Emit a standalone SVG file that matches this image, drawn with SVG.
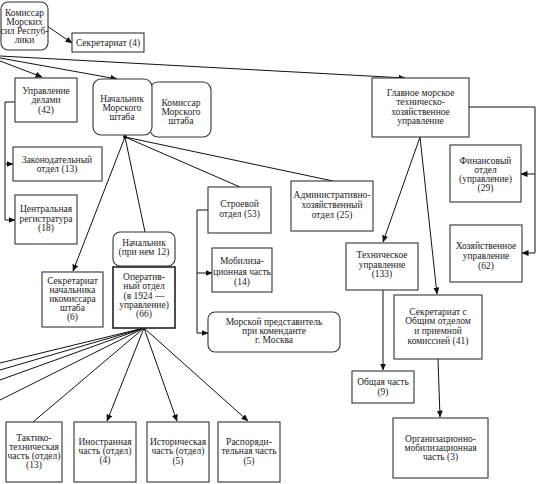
<svg xmlns="http://www.w3.org/2000/svg" width="538" height="484" viewBox="0 0 538 484">
<defs>
<marker id="ah" markerWidth="7" markerHeight="6" refX="6.5" refY="3" orient="auto" markerUnits="userSpaceOnUse">
<path d="M0,0 L7,3 L0,6 Z" fill="#111"/>
</marker>
<style>
.b{fill:#fff;stroke:#333;stroke-width:1.1}
.bt{fill:#fff;stroke:#222;stroke-width:1.6}
.t{font-family:"Liberation Serif","Times New Roman",serif;font-size:9.5px;fill:#222;text-anchor:middle}
.c{fill:none;stroke:#111;stroke-width:1}
.a{fill:none;stroke:#111;stroke-width:1;marker-end:url(#ah)}
</style>
</defs>
<rect width="538" height="484" fill="#fff"/>

<g id="connectors">
<path class="a" d="M47,26 L72,43"/>
<path class="a" d="M0,56 L405,78"/>
<path class="a" d="M0,58 L117,79"/>
<path class="a" d="M0,61 L42,77"/>
<path class="c" d="M15,102 L5,102 L5,220"/>
<path class="a" d="M5,164 L13,164"/>
<path class="a" d="M5,220 L15,220"/>
<path class="a" d="M125,137 L73,271"/>
<path class="c" d="M125,137 L145,232"/>
<path class="c" d="M125,137 L240,187"/>
<path class="c" d="M125,137 L333,181"/>
<circle cx="125" cy="137" r="2" fill="#111"/>
<path class="c" d="M208,210 L197,210 L197,333"/>
<path class="a" d="M197,273 L212,273"/>
<path class="a" d="M197,333 L208,333"/>
<path class="c" d="M144,328 L0,363"/>
<path class="c" d="M144,328 L0,370"/>
<path class="c" d="M144,328 L0,380"/>
<path class="c" d="M144,328 L0,400"/>
<path class="c" d="M144,328 L33,422"/>
<path class="a" d="M144,328 L107,421"/>
<path class="a" d="M144,328 L177,421"/>
<path class="a" d="M144,328 L248,421"/>
<path class="c" d="M469,107 L535,107 L535,253"/>
<path class="a" d="M535,174 L521,174"/>
<path class="a" d="M535,253 L522,253"/>
<path class="a" d="M420,137 L383,242"/>
<path class="a" d="M420,137 L437,294"/>
<path class="a" d="M383,290 L383,370"/>
<path class="a" d="M438,359 L440,417"/>
</g>

<g id="n-komissar"><rect class="b" x="1" y="2" width="47" height="48" rx="7"/>
<text class="t" x="24.5" y="16">Комиссар</text><text class="t" x="24.5" y="25">Морских</text><text class="t" x="24.5" y="34">сил Респуб-</text><text class="t" x="24.5" y="43">лики</text></g>

<g id="n-sekr4"><rect class="b" x="72" y="33" width="72" height="19"/>
<text class="t" x="108" y="46">Секретариат (4)</text></g>

<g id="n-uprdel"><rect class="b" x="15" y="78" width="62" height="44"/>
<text class="t" x="46" y="94">Управление</text><text class="t" x="46" y="103">делами</text><text class="t" x="46" y="113">(42)</text></g>

<g id="n-komshtab"><rect class="b" x="150" y="82" width="61" height="55" rx="8"/>
<text class="t" x="181" y="106">Комиссар</text><text class="t" x="181" y="115">Морского</text><text class="t" x="181" y="124">штаба</text></g>

<g id="n-nachshtab"><rect class="b" x="93" y="79" width="59" height="56" rx="8"/>
<text class="t" x="122" y="102">Начальник</text><text class="t" x="122" y="111">Морского</text><text class="t" x="122" y="120">штаба</text></g>

<g id="n-zakon"><rect class="b" x="13" y="147" width="89" height="34"/>
<text class="t" x="57" y="163">Законодательный</text><text class="t" x="57" y="172">отдел (13)</text></g>

<g id="n-central"><rect class="b" x="15" y="195" width="62" height="49"/>
<text class="t" x="46" y="212">Центральная</text><text class="t" x="46" y="222">регистратура</text><text class="t" x="46" y="231">(18)</text></g>

<g id="n-sekrnach"><rect class="b" x="42" y="272" width="61" height="55"/>
<text class="t" x="72.5" y="284">Секретариат</text><text class="t" x="72.5" y="293">начальника</text><text class="t" x="72.5" y="302">икомиссара</text><text class="t" x="72.5" y="311">штаба</text><text class="t" x="72.5" y="320">(6)</text></g>

<g id="n-nachpri"><rect class="b" x="113" y="232" width="62" height="34" rx="7"/>
<text class="t" x="144" y="246">Начальник</text><text class="t" x="144" y="255">(при нем 12)</text></g>

<g id="n-oper"><rect class="bt" x="113" y="267" width="62" height="61"/>
<text class="t" x="144" y="280">Оператив-</text><text class="t" x="144" y="289">ный отдел</text><text class="t" x="144" y="299">(в 1924 —</text><text class="t" x="144" y="308">управление)</text><text class="t" x="144" y="317">(66)</text></g>

<g id="n-stroev"><rect class="b" x="208" y="187" width="63" height="46"/>
<text class="t" x="239.5" y="207">Строевой</text><text class="t" x="239.5" y="217">отдел (53)</text></g>

<g id="n-admin"><rect class="b" x="291" y="181" width="82" height="50"/>
<text class="t" x="332" y="198">Административно-</text><text class="t" x="332" y="208">хозяйственный</text><text class="t" x="332" y="218">отдел (25)</text></g>

<g id="n-mobil"><rect class="b" x="212" y="248" width="60" height="44"/>
<text class="t" x="242" y="264">Мобилиза-</text><text class="t" x="242" y="275">ционная часть</text><text class="t" x="242" y="285">(14)</text></g>

<g id="n-morpred"><rect class="b" x="208" y="312" width="132" height="40" rx="7"/>
<text class="t" x="274" y="325">Морской представитель</text><text class="t" x="274" y="334">при коменданте</text><text class="t" x="274" y="343">г. Москва</text></g>

<g id="n-taktiko"><rect class="b" x="6" y="422" width="56" height="60"/>
<text class="t" x="34" y="441">Тактико-</text><text class="t" x="34" y="450">техническая</text><text class="t" x="34" y="459">часть (отдел)</text><text class="t" x="34" y="468">(13)</text></g>

<g id="n-inostr"><rect class="b" x="74" y="422" width="62" height="60"/>
<text class="t" x="105" y="445">Иностранная</text><text class="t" x="105" y="454">часть (отдел)</text><text class="t" x="105" y="463">(4)</text></g>

<g id="n-istor"><rect class="b" x="147" y="422" width="62" height="60"/>
<text class="t" x="178" y="445">Историческая</text><text class="t" x="178" y="454">часть (отдел)</text><text class="t" x="178" y="464">(5)</text></g>

<g id="n-raspor"><rect class="b" x="218" y="422" width="62" height="60"/>
<text class="t" x="249" y="445">Распоряди-</text><text class="t" x="249" y="454">тельная часть</text><text class="t" x="249" y="464">(5)</text></g>

<g id="n-glavnoe"><rect class="b" x="372" y="78" width="97" height="59"/>
<text class="t" x="420.5" y="96">Главное морское</text><text class="t" x="420.5" y="105">техническо-</text><text class="t" x="420.5" y="115">хозяйственное</text><text class="t" x="420.5" y="124">управление</text></g>

<g id="n-finans"><rect class="b" x="450" y="145" width="71" height="57"/>
<text class="t" x="485.5" y="164">Финансовый</text><text class="t" x="485.5" y="173">отдел</text><text class="t" x="485.5" y="182">(управление)</text><text class="t" x="485.5" y="191">(29)</text></g>

<g id="n-hoz"><rect class="b" x="450" y="225" width="72" height="57"/>
<text class="t" x="486" y="249">Хозяйственное</text><text class="t" x="486" y="259">управление</text><text class="t" x="486" y="269">(62)</text></g>

<g id="n-tech"><rect class="b" x="346" y="243" width="72" height="47"/>
<text class="t" x="382" y="258">Техническое</text><text class="t" x="382" y="268">управление</text><text class="t" x="382" y="277">(133)</text></g>

<g id="n-sekrobsh"><rect class="b" x="394" y="295" width="88" height="64"/>
<text class="t" x="438" y="315">Секретариат с</text><text class="t" x="438" y="324">Общим отделом</text><text class="t" x="438" y="334">и приемной</text><text class="t" x="438" y="344">комиссией (41)</text></g>

<g id="n-obsh"><rect class="b" x="352" y="371" width="62" height="32"/>
<text class="t" x="383" y="385">Общая часть</text><text class="t" x="383" y="395">(9)</text></g>

<g id="n-orgmob"><rect class="b" x="393" y="418" width="95" height="60"/>
<text class="t" x="440.5" y="442">Организационно-</text><text class="t" x="440.5" y="451">мобилизационная</text><text class="t" x="440.5" y="460">часть (3)</text></g>
</svg>
